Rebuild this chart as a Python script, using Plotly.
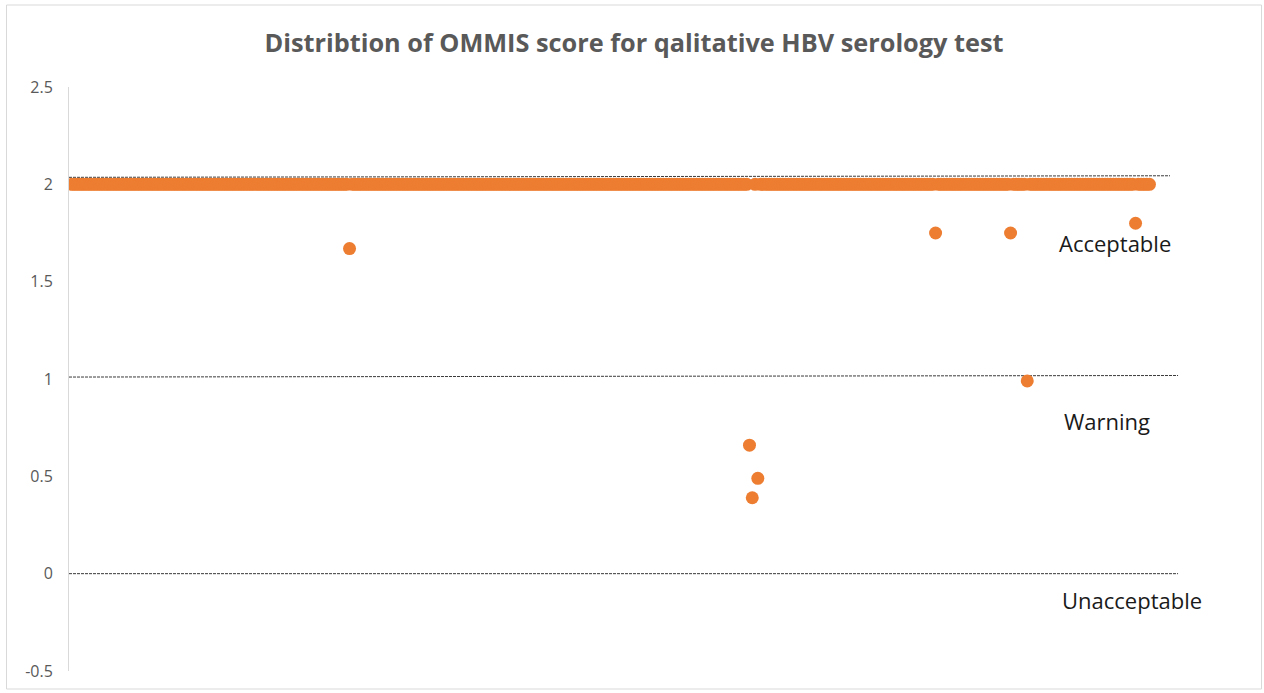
import plotly.graph_objects as go

# ---- data ----
n_samples = 389                      # participants, plotted by index 1..n
base_score = 2.0                     # score of every participant not listed below
outlier_index = [101, 245, 246, 248, 312, 339, 345, 384]
outlier_score = [1.67, 0.66, 0.39, 0.49, 1.75, 1.75, 0.99, 1.80]

zone_labels = ["Acceptable", "Warning", "Unacceptable"]
zone_label_x = [376.6, 373.7, 382.7]
zone_label_y = [1.70, 0.784, -0.135]

# threshold lines (start y, end y, end x)
limit_y0 = [2.036, 1.010, 0.0]
limit_y1 = [2.044, 1.018, 0.0]
limit_x1 = [396.4, 399.3, 399.3]

y_ticks = [-0.5, 0, 0.5, 1, 1.5, 2, 2.5]

# ---- build series ----
idx = list(range(1, n_samples + 1))
scores = [base_score] * n_samples
for i, s in zip(outlier_index, outlier_score):
    scores[i - 1] = s

fig = go.Figure()
fig.add_trace(go.Scatter(
    x=idx, y=scores, mode="markers",
    marker=dict(color="#ED7D31", size=13, line=dict(width=0)),
    showlegend=False,
))

for y0, y1, x1 in zip(limit_y0, limit_y1, limit_x1):
    fig.add_shape(type="line", xref="x", yref="y", x0=0, y0=y0, x1=x1, y1=y1,
                  line=dict(color="#3a3a3a", width=1, dash="3px,1px"), layer="below")

for t, x, y in zip(zone_labels, zone_label_x, zone_label_y):
    fig.add_annotation(x=x, y=y, xref="x", yref="y", text=t, showarrow=False,
                       font=dict(family="Open Sans", size=22, color="#1a1a1a"))

# chart border
W, H = 1264, 693
ml, mr, mt, mb = 69, 84, 87, 22
pw, ph = W - ml - mr, H - mt - mb
def px_x(p): return (p - ml) / pw
def px_y(p): return (H - mb - p) / ph
fig.add_shape(type="rect", xref="paper", yref="paper",
              x0=px_x(6.5), x1=px_x(1261.5), y0=px_y(689), y1=px_y(5),
              line=dict(color="#d9d9d9", width=1), layer="below")

fig.update_layout(
    width=W, height=H,
    margin=dict(l=ml, r=mr, t=mt, b=mb),
    paper_bgcolor="white", plot_bgcolor="white",
    title=dict(text="<b>Distribtion of OMMIS score for qalitative HBV serology test</b>",
               x=634 / W, xref="container", xanchor="center", y=1 - 43 / H, yanchor="middle",
               font=dict(family="Open Sans", size=25.3, color="#595959")),
    xaxis=dict(range=[0, 400], visible=False, showgrid=False, zeroline=False),
    yaxis=dict(range=[-0.5, 2.5], tickvals=y_ticks, ticktext=[str(v) for v in y_ticks],
               showgrid=False, zeroline=False, showline=True, linecolor="#d9d9d9",
               linewidth=1, ticks="", ticklabelstandoff=12,
               tickfont=dict(family="Open Sans", size=16, color="#595959")),
)

fig.write_html("out.html", config={"displayModeBar": False},
               post_script="document.body.style.margin='0';")
